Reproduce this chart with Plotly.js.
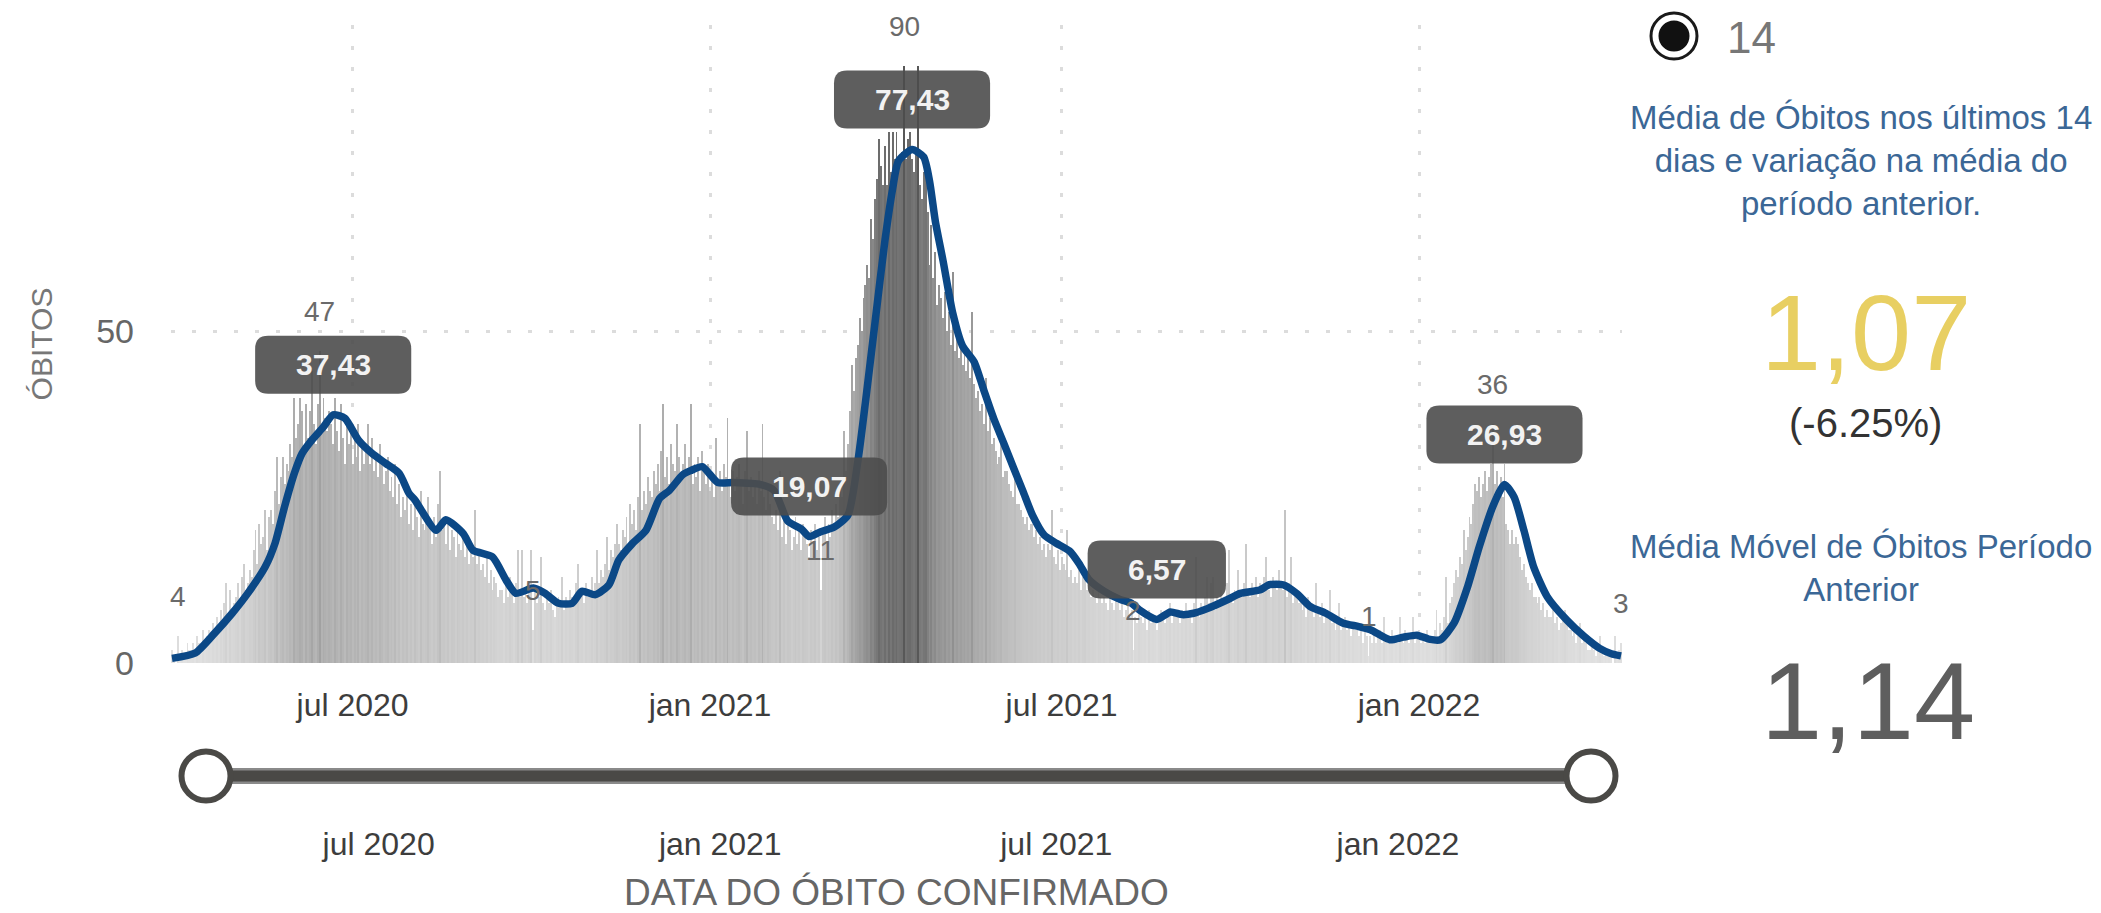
<!DOCTYPE html>
<html><head><meta charset="utf-8">
<script src="https://cdn.plot.ly/plotly-3.0.1.min.js"></script>
<style>html,body{margin:0;padding:0;background:#fff;overflow:hidden}#chart{width:2101px;height:913px}</style>
</head><body><div id="chart"></div>
<script>
// ---------------- DATA ----------------
const START_DATE = '2020-03-30';
// daily deaths (one value per day from START_DATE)
const deaths = [
2,1,0,4,1,2,1,1,3,2,
2,3,1,4,3,2,5,3,4,5,
4,6,5,7,5,8,6,9,12,7,
11,8,9,10,12,9,13,15,11,12,
14,13,17,20,15,21,18,19,23,17,
22,23,21,26,31,24,28,31,27,30,
29,33,31,40,34,36,40,38,32,39,
34,38,44,36,33,39,47,35,40,37,
35,38,36,33,40,35,32,39,34,30,
37,33,35,30,34,31,36,29,33,30,
32,36,30,34,29,31,28,33,30,27,
29,31,26,28,25,30,24,27,22,25,
23,26,21,24,20,25,22,19,26,21,
20,22,25,21,18,22,19,24,29,20,
21,18,22,17,20,19,16,21,18,17,
19,16,18,15,17,16,23,15,17,14,
15,13,16,12,14,11,13,12,10,11,
11,9,12,10,13,11,9,12,17,10,
17,10,11,9,12,17,5,11,9,10,
16,9,8,10,9,11,8,7,9,10,
9,13,8,10,9,11,10,9,12,15,
10,11,9,12,10,11,13,10,12,17,
12,14,13,15,19,14,17,16,18,21,
18,17,20,19,22,18,24,21,23,20,
25,36,23,26,24,28,26,25,29,27,
30,26,32,39,28,31,27,33,30,29,
36,31,28,30,33,29,31,39,27,30,
28,31,26,32,29,27,30,26,28,25,
34,27,29,26,30,28,37,27,25,29,
26,28,30,27,24,29,35,26,28,25,
27,24,29,26,36,25,23,27,24,22,
21,23,20,29,19,22,18,21,20,17,
19,22,18,20,17,21,19,18,16,20,
18,21,17,19,11,20,22,18,21,19,
23,20,24,22,26,25,35,29,33,38,
45,41,46,48,52,50,55,57,60,58,
67,64,70,73,79,75,72,78,72,80,
74,80,76,80,75,76,77,90,76,79,
80,76,74,77,90,72,70,74,75,68,
60,66,58,62,54,57,55,52,56,50,
53,48,59,47,50,46,49,45,47,44,
46,43,53,42,40,41,38,39,36,43,
35,37,33,34,32,30,31,33,28,29,
29,27,26,25,28,24,24,23,22,21,
22,20,21,21,19,20,18,19,17,18,
16,18,17,23,16,15,17,14,16,15,
14,20,13,14,12,13,12,14,11,13,
14,11,12,10,11,10,9,11,10,9,
10,9,8,10,9,8,10,9,8,9,
7,8,9,7,8,2,7,6,8,7,
6,7,5,8,6,7,6,5,7,8,
7,6,8,7,9,6,8,7,8,6,
8,7,9,7,8,6,9,16,8,7,
9,8,10,13,9,12,13,8,10,9,
11,9,10,12,17,10,9,11,10,14,
11,10,12,18,11,10,12,11,13,10,
12,11,13,16,12,11,10,13,12,11,
14,12,11,23,10,12,16,9,11,10,
9,10,8,9,7,10,8,9,7,12,
8,7,9,6,8,7,11,6,7,5,
6,9,5,6,7,5,6,4,6,5,
5,4,6,3,5,4,1,4,3,5,
3,4,5,3,7,4,3,4,5,3,
4,3,7,4,3,5,4,3,4,7,
3,4,5,3,4,3,5,4,3,4,
5,8,4,6,5,7,13,6,9,10,
12,14,13,16,15,20,17,19,22,21,
24,27,26,28,25,27,29,26,28,30,
36,27,29,26,28,25,30,21,20,18,
20,18,19,18,16,14,15,13,12,11,
12,10,10,9,10,8,9,7,8,7,
7,8,6,7,5,6,7,8,6,5,
5,4,5,3,4,6,3,4,3,2,
2,3,2,1,3,4,2,1,2,1,
2,1,0,4,1,2,3
];

// moving average (14 days)
const maDates = ['2020-03-30','2020-04-11','2020-04-21','2020-04-30','2020-05-08','2020-05-17','2020-05-22','2020-05-27','2020-06-01','2020-06-05','2020-06-10','2020-06-16','2020-06-21','2020-06-27','2020-07-04','2020-07-11','2020-07-18','2020-07-25','2020-07-30','2020-08-02','2020-08-13','2020-08-18','2020-08-27','2020-09-01','2020-09-11','2020-09-18','2020-09-23','2020-10-02','2020-10-08','2020-10-15','2020-10-22','2020-10-27','2020-11-03','2020-11-10','2020-11-15','2020-11-22','2020-11-29','2020-12-06','2020-12-11','2020-12-18','2020-12-22','2020-12-28','2021-01-05','2021-01-13','2021-01-27','2021-02-03','2021-02-10','2021-02-17','2021-02-21','2021-02-27','2021-03-06','2021-03-13','2021-03-18','2021-03-22','2021-03-27','2021-04-01','2021-04-05','2021-04-08','2021-04-15','2021-04-21','2021-04-24','2021-04-27','2021-05-01','2021-05-06','2021-05-11','2021-05-17','2021-05-22','2021-05-27','2021-06-01','2021-06-06','2021-06-11','2021-06-16','2021-06-22','2021-06-28','2021-07-05','2021-07-10','2021-07-15','2021-07-23','2021-07-31','2021-08-06','2021-08-10','2021-08-19','2021-08-26','2021-09-01','2021-09-07','2021-09-14','2021-09-24','2021-10-01','2021-10-11','2021-10-16','2021-10-23','2021-10-30','2021-11-06','2021-11-14','2021-11-23','2021-12-01','2021-12-07','2021-12-17','2021-12-24','2021-12-31','2022-01-06','2022-01-12','2022-01-19','2022-01-26','2022-02-01','2022-02-08','2022-02-14','2022-02-19','2022-02-24','2022-03-01','2022-03-08','2022-03-18','2022-03-27','2022-04-04','2022-04-10','2022-04-15'];
const maValues = [0.7,1.5,4.5,7.5,10.5,14.5,18,23.6,28.6,31.6,33.6,35.6,37.43,36.9,33.6,31.6,30.1,28.6,25.6,24.6,20,21.6,19.5,17,16,12.5,10.5,11.3,10.5,9,9,10.8,10.3,11.8,15.5,18,20,24.8,26,28.4,29,29.6,27.2,27.2,26.9,26,21.4,20.2,19.07,19.8,20.5,22.3,30.2,39.3,51.5,63.6,71.5,75.7,77.43,76.3,72.7,66.6,60.6,52.7,47.8,45.4,41.1,36.9,33.3,29.6,26,22.3,19.3,18.1,16.9,15,12.6,10.8,9.6,9.0,8.0,6.57,7.7,7.3,7.5,8.2,9.5,10.5,11,11.8,11.8,10.5,8.5,7.5,6,5.5,5,3.5,3.9,4.2,3.6,3.5,6,11.5,17.5,23.6,26.93,25,20,14.5,10,6.5,4,2.2,1.4,1.07];

const barLabelDates = ['2020-04-02','2020-06-14','2020-10-02','2021-02-27','2021-04-11','2021-08-07','2021-12-06','2022-02-08','2022-04-15'];
const maLabelDates = ['2020-06-21','2021-02-21','2021-04-15','2021-08-19','2022-02-14'];

const tickDates = ['2020-07-01','2021-01-01','2021-07-01','2022-01-01'];
const tickText = ['jul 2020','jan 2021','jul 2021','jan 2022'];

const periodDays = '14';
const kpiTitle = 'Média de Óbitos nos últimos 14<br>dias e variação na média do<br>período anterior.';
const kpiValue = '1,07';
const kpiChange = '(-6.25%)';
const prevTitle = 'Média Móvel de Óbitos Período<br>Anterior';
const prevValue = '1,14';
const xTitle = 'DATA DO ÓBITO CONFIRMADO';
const yTitle = 'ÓBITOS';

// ---------------- HELPERS ----------------
function shiftDate(s, days){
  const d = new Date(s + 'T00:00:00Z');
  const t = new Date(d.getTime() + days*86400000);
  return t.toISOString().slice(0,16).replace('T',' ');
}
const dates = deaths.map((_, i) => shiftDate(START_DATE, i).slice(0,10));
const valueAt = d => deaths[dates.indexOf(d)];
const maAt = d => maValues[maDates.indexOf(d)];
const fmt = v => v.toFixed(2).replace('.', ',');

const W = 2101, H = 913, ML = 171, MR = 479, MT = 25, MB = 113;
const PW = W - ML - MR, PH = H - MT - MB;
const px = x => (x - ML) / PW;
const py = y => (H - MB - y) / PH;

const FONT = 'Liberation Sans, Arial, sans-serif';

function roundRect(w, h, r, cy){
  const x0 = -w/2, x1 = w/2, y0 = cy - h/2, y1 = cy + h/2;
  return `M${x0+r},${y0} L${x1-r},${y0} Q${x1},${y0} ${x1},${y0+r} L${x1},${y1-r} Q${x1},${y1} ${x1-r},${y1} L${x0+r},${y1} Q${x0},${y1} ${x0},${y1-r} L${x0},${y0+r} Q${x0},${y0} ${x0+r},${y0} Z`;
}

// ---------------- TRACES ----------------
const first = dates[0], last = dates[dates.length-1];

const bars = {
  type: 'bar', x: dates, y: deaths, xaxis: 'x', yaxis: 'y',
  marker: {
    color: deaths, cmin: 0, cmax: 90,
    colorscale: [[0,'#e3e3e3'],[0.12,'#d3d3d3'],[0.25,'#c5c5c5'],[0.45,'#ababab'],[0.7,'#8a8a8a'],[1,'#585858']],
    line: {width: 0}
  },
  hoverinfo: 'skip'
};
const maLine = {
  type: 'scatter', mode: 'lines', x: maDates, y: maValues, xaxis: 'x', yaxis: 'y',
  line: {color: '#0b4886', width: 7.5, shape: 'spline', smoothing: 0.6}, hoverinfo: 'skip'
};
const sliderEdge = {
  type: 'scatter', mode: 'lines', x: [first, last], y: [0, 0], xaxis: 'x2', yaxis: 'y2',
  line: {color: '#8a8a8a', width: 16}, hoverinfo: 'skip', cliponaxis: false
};
const sliderCore = {
  type: 'scatter', mode: 'lines+markers', x: [first, last], y: [0, 0], xaxis: 'x2', yaxis: 'y2',
  line: {color: '#4a4946', width: 11},
  marker: {size: 49, color: '#ffffff', line: {color: '#4a4946', width: 6}},
  hoverinfo: 'skip', cliponaxis: false
};

// ---------------- ANNOTATIONS / SHAPES ----------------
const annotations = [];
const shapes = [];

barLabelDates.forEach(d => {
  annotations.push({
    x: d, y: valueAt(d), xref: 'x', yref: 'y', text: String(valueAt(d)),
    showarrow: false, yanchor: 'bottom', yshift: 22,
    font: {family: FONT, size: 28, color: '#6a6a6a'}
  });
});

maLabelDates.forEach(d => {
  const txt = fmt(maAt(d));
  const w = 76 + (txt.length - 1) * 17.8 + 8.9;
  shapes.push({
    type: 'path', xref: 'x', yref: 'y', xsizemode: 'pixel', ysizemode: 'pixel',
    xanchor: d, yanchor: maAt(d), path: roundRect(w, 58, 13, 50),
    fillcolor: '#4d4d4d', opacity: 0.9, line: {width: 0}, layer: 'above'
  });
  annotations.push({
    x: d, y: maAt(d), xref: 'x', yref: 'y', text: '<b>' + txt + '</b>',
    showarrow: false, yanchor: 'middle', yshift: 50,
    font: {family: FONT, size: 30, color: '#f2f2f2'}
  });
});

// radio button
shapes.push({type: 'circle', xref: 'paper', yref: 'paper',
  x0: px(1651), x1: px(1697), y0: py(59), y1: py(13),
  line: {color: '#1a1a1a', width: 3}, fillcolor: '#ffffff', layer: 'above'});
shapes.push({type: 'circle', xref: 'paper', yref: 'paper',
  x0: px(1658.5), x1: px(1689.5), y0: py(51.5), y1: py(20.5),
  line: {width: 0}, fillcolor: '#111111', layer: 'above'});

const panel = (x, y, text, size, color) => ({
  xref: 'paper', yref: 'paper', x: px(x), y: py(y), text, showarrow: false,
  xanchor: 'center', yanchor: 'middle', align: 'center',
  font: {family: FONT, size, color}
});
annotations.push(panel(1752, 38, periodDays, 44, '#777777'));
annotations.push(panel(1861, 160, kpiTitle, 33, '#3b6796'));
annotations.push(panel(1866, 332, kpiValue, 108, '#e8cf62'));
annotations.push(panel(1866, 423, kpiChange, 40, '#333333'));
annotations.push(panel(1861, 568, prevTitle, 33, '#3b6796'));
annotations.push(panel(1868, 700, prevValue, 110, '#5e5e5e'));

// ---------------- LAYOUT ----------------
const grid = {showgrid: true, gridcolor: '#dcdcdc', gridwidth: 3, griddash: '4px,17px'};
const layout = {
  width: W, height: H,
  margin: {l: ML, r: MR, t: MT, b: MB, pad: 0},
  paper_bgcolor: '#ffffff', plot_bgcolor: '#ffffff',
  showlegend: false, bargap: 0, hovermode: false,
  font: {family: FONT, color: '#555'},
  xaxis: Object.assign({
    type: 'date', domain: [0, 1], anchor: 'y',
    range: [shiftDate(first, -0.5), shiftDate(last, 0.5)],
    tickmode: 'array', tickvals: tickDates, ticktext: tickText,
    ticks: '', ticklabelstandoff: 20, zeroline: false, showline: false,
    tickfont: {family: FONT, size: 32, color: '#3d3d3d'}
  }, grid),
  yaxis: Object.assign({
    domain: [py(663), 1], range: [0, 96.2], anchor: 'x',
    tickmode: 'array', tickvals: [0, 50], ticks: '', ticklabelstandoff: 36,
    zeroline: false, showline: false,
    tickfont: {family: FONT, size: 34, color: '#666666'},
    title: {text: yTitle, standoff: 34, font: {family: FONT, size: 30, color: '#777777'}}
  }, grid),
  xaxis2: {
    type: 'date', domain: [0, 1], anchor: 'y2',
    range: [shiftDate(first, -18.85), shiftDate(last, 16.7)],
    tickmode: 'array', tickvals: tickDates, ticktext: tickText,
    ticks: '', ticklabelstandoff: 30, showgrid: false, zeroline: false, showline: false,
    tickfont: {family: FONT, size: 32, color: '#3d3d3d'},
    title: {text: xTitle, standoff: 18, font: {family: FONT, size: 37, color: '#666666'}}
  },
  yaxis2: {domain: [py(792), py(760)], range: [-1, 1], visible: false, fixedrange: true, anchor: 'x2'},
  annotations, shapes
};

Plotly.newPlot('chart', [bars, maLine, sliderEdge, sliderCore], layout, {displayModeBar: false, staticPlot: true});
</script>
</body></html>
